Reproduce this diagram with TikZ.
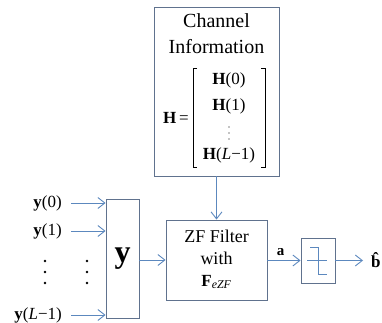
\documentclass[tikz,border=0pt]{standalone}
\usepackage{fontspec}
\setmainfont{Liberation Serif}
\usetikzlibrary{positioning, arrows.meta, calc}
\definecolor{boxline}{RGB}{96,114,142}
\definecolor{arrowblue}{RGB}{92,136,190}
\tikzset{
    block/.style={
        draw=boxline,
        line width=0.9pt,
        inner sep=0pt
    },
    conn/.style={
        draw=arrowblue,
        line width=0.9pt,
        -{Straight Barb[length=7pt,width=11pt]}
    },
    lbl/.style={
        inner sep=1pt,
        font=\fontsize{17}{19}\selectfont
    }
}

\begin{document}
\begin{tikzpicture}[x=1pt, y=-1pt]
      \useasboundingbox (0,0) rectangle (382,323);

      \node[block, minimum width=125pt, minimum height=169pt] (C) at (216.5,91.5) {};
      \node[block, minimum width=101pt, minimum height=80pt] (Z) at (216.5,260) {};
      \node[block, minimum width=33pt, minimum height=119pt] (Y) at (122.5,258.5) {};
      \node[block, minimum width=34pt, minimum height=45pt] (D) at (318,260.5) {};

      \node[lbl, font=\fontsize{20}{22}\selectfont] (ch) at (216.5,21) {Channel};
      \node[lbl, font=\fontsize{20}{22}\selectfont] (inf) at (216.5,47) {Information};
      \node[lbl] (Heq) at (176,118) {\textbf{H}\,=};
      \node[lbl] (H0) at (229,80) {\textbf{H}(0)};
      \node[lbl] (H1) at (229,106) {\textbf{H}(1)};
      \node[lbl] (HL) at (229,155) {\textbf{H}(\textit{L}−1)};
      \foreach \yy in {127,133,139}
        \fill (229,\yy) circle (0.7pt);
      \draw[line width=0.8pt] (197,68) -- (193,68) -- (193,167) -- (197,167);
      \draw[line width=0.8pt] (261,68) -- (265,68) -- (265,167) -- (261,167);

      \node[lbl, font=\fontsize{18}{20}\selectfont] (zf1) at (216.5,236) {ZF Filter};
      \node[lbl, font=\fontsize{18}{20}\selectfont] (zf2) at (216.5,258) {with};
      \node[lbl] (zf3) at (216.5,282) {\textbf{F}\textsubscript{\textit{eZF}}};

      \node[font=\fontsize{32}{34}\selectfont\bfseries] (ybig) at (Y.center) {y};

      \node[lbl, anchor=east] (y0) at (63,203) {\textbf{y}(0)};
      \node[lbl, anchor=east] (y1) at (63,231) {\textbf{y}(1)};
      \node[lbl, anchor=east] (yL) at (63,315) {\textbf{y}(\textit{L}−1)};
      \foreach \yy in {261,272,283} {
        \fill (45,\yy) circle (1.3pt);
        \fill (87,\yy) circle (1.3pt);
      }

      \node[lbl, anchor=west, inner sep=0pt] (bh) at (371,260) {\textbf{\^b}};

      \draw[arrowblue, line width=0.9pt] (307,260) -- (327,260);
      \draw[arrowblue, line width=0.9pt] (310,247) -- (318,247) -- (318,274) -- (327,274);

      \draw[conn, shorten <=8pt] (y0.east) -- (y0.east -| Y.west);
      \draw[conn, shorten <=8pt] (y1.east) -- (y1.east -| Y.west);
      \draw[conn, shorten <=8pt] (yL.east) -- (yL.east -| Y.west);
      \draw[conn] (C.south) -- (Z.north);
      \draw[conn] (Y.east |- Z.west) -- (Z.west);
      \draw[conn] (Z.east |- D.west) -- (D.west)
        node[pos=0.4, above=3pt, lbl, font=\fontsize{15}{17}\selectfont] (a) {\textbf{a}};
      \draw[conn, shorten >=8pt] (D.east) -- (bh.west |- D.east);

\end{tikzpicture}
\end{document}
